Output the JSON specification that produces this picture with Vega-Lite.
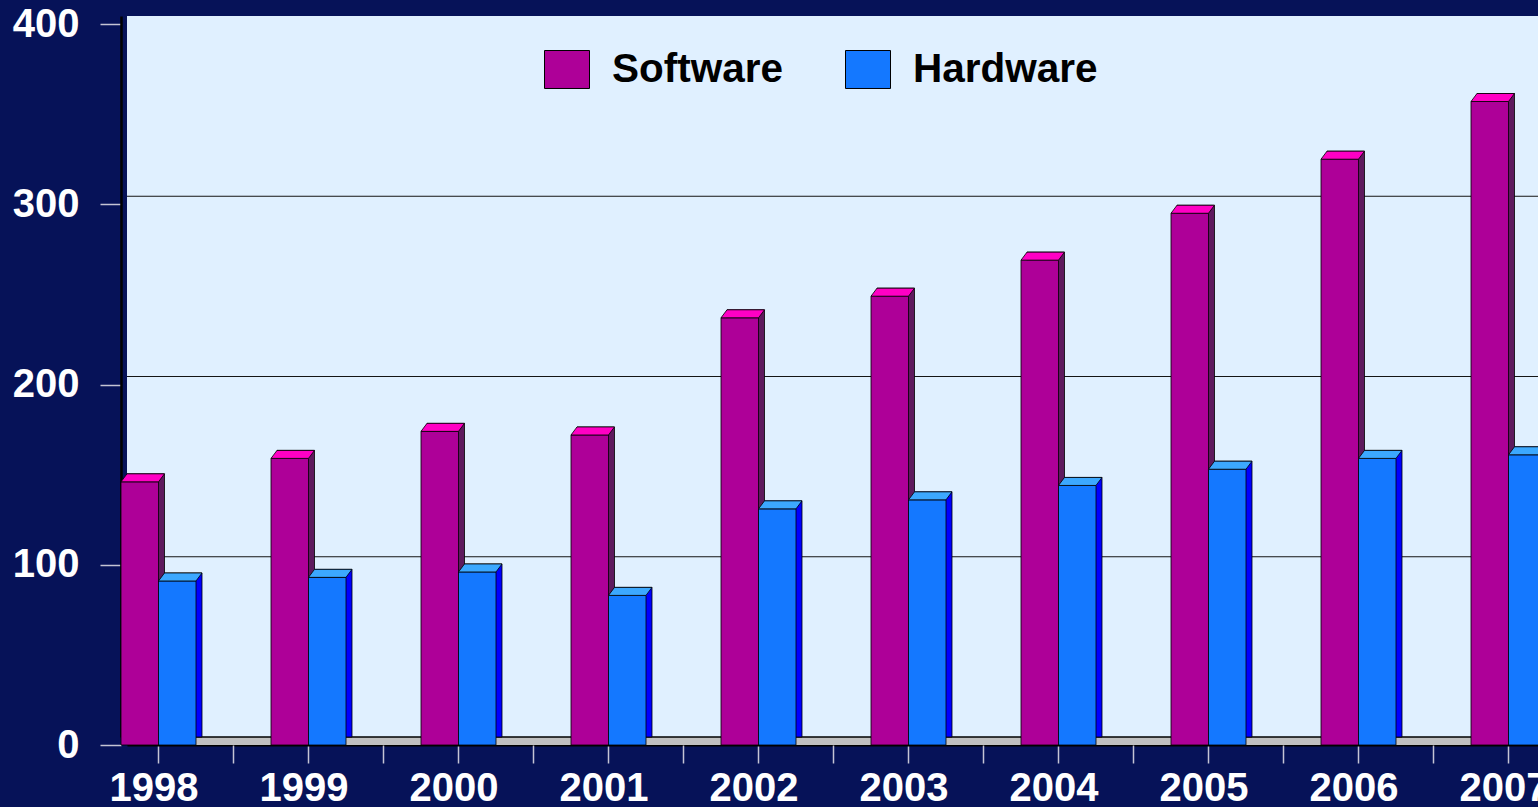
{
  "$schema": "https://vega.github.io/schema/vega-lite/v6.json",
  "width": 1411,
  "height": 721,
  "autosize": {"type": "none"},
  "padding": {"left": 127, "top": 16, "right": 0, "bottom": 70},
  "background": "#061258",
  "config": {
    "view": {"fill": "#E0F0FF", "stroke": null},
    "font": "Liberation Sans",
    "axis": {
      "labelFont": "Liberation Sans",
      "labelFontWeight": "bold",
      "labelFontSize": 40,
      "labelColor": "#FFFFFF",
      "tickColor": "#C4C4D4",
      "tickWidth": 1.5,
      "domainColor": "#000000",
      "grid": false,
      "title": null
    },
    "axisY": {"offset": 6, "tickSize": 21, "labelPadding": 21, "tickOffset": 8, "domainWidth": 2.5},
    "axisX": {"offset": 8, "tickSize": 18, "labelPadding": 5, "domainWidth": 2, "labelAngle": 0}
  },
  "data": {
    "values": [
      {"year": "1998", "series": "Software", "value": 146},
      {"year": "1998", "series": "Hardware", "value": 91},
      {"year": "1999", "series": "Software", "value": 159},
      {"year": "1999", "series": "Hardware", "value": 93},
      {"year": "2000", "series": "Software", "value": 174},
      {"year": "2000", "series": "Hardware", "value": 96},
      {"year": "2001", "series": "Software", "value": 172},
      {"year": "2001", "series": "Hardware", "value": 83},
      {"year": "2002", "series": "Software", "value": 237},
      {"year": "2002", "series": "Hardware", "value": 131},
      {"year": "2003", "series": "Software", "value": 249},
      {"year": "2003", "series": "Hardware", "value": 136},
      {"year": "2004", "series": "Software", "value": 269},
      {"year": "2004", "series": "Hardware", "value": 144},
      {"year": "2005", "series": "Software", "value": 295},
      {"year": "2005", "series": "Hardware", "value": 153},
      {"year": "2006", "series": "Software", "value": 325},
      {"year": "2006", "series": "Hardware", "value": 159},
      {"year": "2007", "series": "Software", "value": 357},
      {"year": "2007", "series": "Hardware", "value": 161}
    ]
  },
  "resolve": {"axis": {"x": "independent"}},
  "layer": [
    {
      "data": {"values": [{}]},
      "mark": {"type": "rule", "color": "#C0C0C0", "strokeWidth": 8, "yOffset": 4},
      "encoding": {"y": {"datum": 0, "type": "quantitative", "title": null, "scale": {"domain": [0, 400], "nice": false}, "axis": {"values": [0, 100, 200, 300, 400]}}}
    },
    {
      "data": {"values": [{}]},
      "mark": {"type": "rule", "color": "#000000", "strokeWidth": 1.5},
      "encoding": {"y": {"datum": 0, "type": "quantitative", "title": null}}
    },
    {
      "data": {"values": [{}]},
      "mark": {"type": "rule", "color": "#151515", "strokeWidth": 1},
      "encoding": {"y": {"datum": 100, "type": "quantitative", "title": null}}
    },
    {
      "data": {"values": [{}]},
      "mark": {"type": "rule", "color": "#151515", "strokeWidth": 1},
      "encoding": {"y": {"datum": 200, "type": "quantitative", "title": null}}
    },
    {
      "data": {"values": [{}]},
      "mark": {"type": "rule", "color": "#151515", "strokeWidth": 1},
      "encoding": {"y": {"datum": 300, "type": "quantitative", "title": null}}
    },
    {
      "transform": [{"filter": "datum.series === 'Software'"}],
      "mark": {"type": "bar", "color": "#5E1A5E", "stroke": "#000000", "strokeWidth": 1, "strokeOpacity": 0.8, "width": {"band": 0.5}, "xOffset": -18.75},
      "encoding": {
        "x": {"field": "year", "type": "ordinal", "title": null, "scale": {"range": [0, 1425], "paddingInner": 0.5, "paddingOuter": 0}, "axis": {"bandPosition": 0.42, "labelOffset": -10.5}},
        "y": {"field": "value", "type": "quantitative", "title": null}
      }
    },
    {
      "transform": [{"filter": "datum.series === 'Hardware'"}],
      "mark": {"type": "bar", "color": "#0000FF", "stroke": "#000000", "strokeWidth": 1, "strokeOpacity": 0.8, "width": {"band": 0.5}, "xOffset": 18.75},
      "encoding": {
        "x": {"field": "year", "type": "ordinal", "axis": null},
        "y": {"field": "value", "type": "quantitative", "title": null}
      }
    },
    {
      "transform": [{"filter": "datum.series === 'Software'"}],
      "mark": {"type": "bar", "stroke": "#000000", "strokeWidth": 1, "strokeOpacity": 0.8, "width": {"band": 0.5}, "xOffset": -24.75, "yOffset": 8},
      "encoding": {
        "x": {"field": "year", "type": "ordinal", "axis": null},
        "y": {"field": "value", "type": "quantitative", "title": null},
        "color": {
          "field": "series",
          "type": "nominal",
          "scale": {"domain": ["Software", "Hardware"], "range": ["#AE0098", "#1478FF"]},
          "legend": {
            "orient": "none",
            "legendX": 417,
            "legendY": 30.5,
            "direction": "horizontal",
            "title": null,
            "padding": 0,
            "symbolType": "M-1,-0.844L1,-0.844L1,0.844L-1,0.844Z",
            "symbolSize": 2025,
            "symbolStrokeColor": "#000000",
            "symbolStrokeWidth": 1,
            "symbolOpacity": 1,
            "labelFont": "Liberation Sans",
            "labelFontSize": 40.5,
            "labelFontWeight": "bold",
            "labelColor": "#000000",
            "labelLimit": 500,
            "labelOffset": 22,
            "columnPadding": 59
          }
        }
      }
    },
    {
      "transform": [{"filter": "datum.series === 'Hardware'"}],
      "mark": {"type": "bar", "stroke": "#000000", "strokeWidth": 1, "strokeOpacity": 0.8, "width": {"band": 0.5}, "xOffset": 12.75, "yOffset": 8},
      "encoding": {
        "x": {"field": "year", "type": "ordinal", "axis": null},
        "y": {"field": "value", "type": "quantitative", "title": null},
        "color": {"field": "series", "type": "nominal"}
      }
    },
    {
      "transform": [{"filter": "datum.series === 'Software'"}],
      "mark": {
        "type": "point",
        "shape": "M-1,0.184L0.724,0.184L1,-0.184L-0.724,-0.184Z",
        "size": 1892,
        "filled": true,
        "opacity": 1,
        "color": "#FF00C4",
        "stroke": "#000000",
        "strokeWidth": 1,
        "strokeOpacity": 0.8,
        "xOffset": -21.75,
        "yOffset": 4
      },
      "encoding": {
        "x": {"field": "year", "type": "ordinal", "axis": {"bandPosition": 1.42, "labels": false, "domain": false, "orient": "bottom"}},
        "y": {"field": "value", "type": "quantitative", "title": null}
      }
    },
    {
      "transform": [{"filter": "datum.series === 'Hardware'"}],
      "mark": {
        "type": "point",
        "shape": "M-1,0.184L0.724,0.184L1,-0.184L-0.724,-0.184Z",
        "size": 1892,
        "filled": true,
        "opacity": 1,
        "color": "#3CA8FF",
        "stroke": "#000000",
        "strokeWidth": 1,
        "strokeOpacity": 0.8,
        "xOffset": 15.75,
        "yOffset": 4
      },
      "encoding": {
        "x": {"field": "year", "type": "ordinal", "axis": null},
        "y": {"field": "value", "type": "quantitative", "title": null}
      }
    }
  ]
}
